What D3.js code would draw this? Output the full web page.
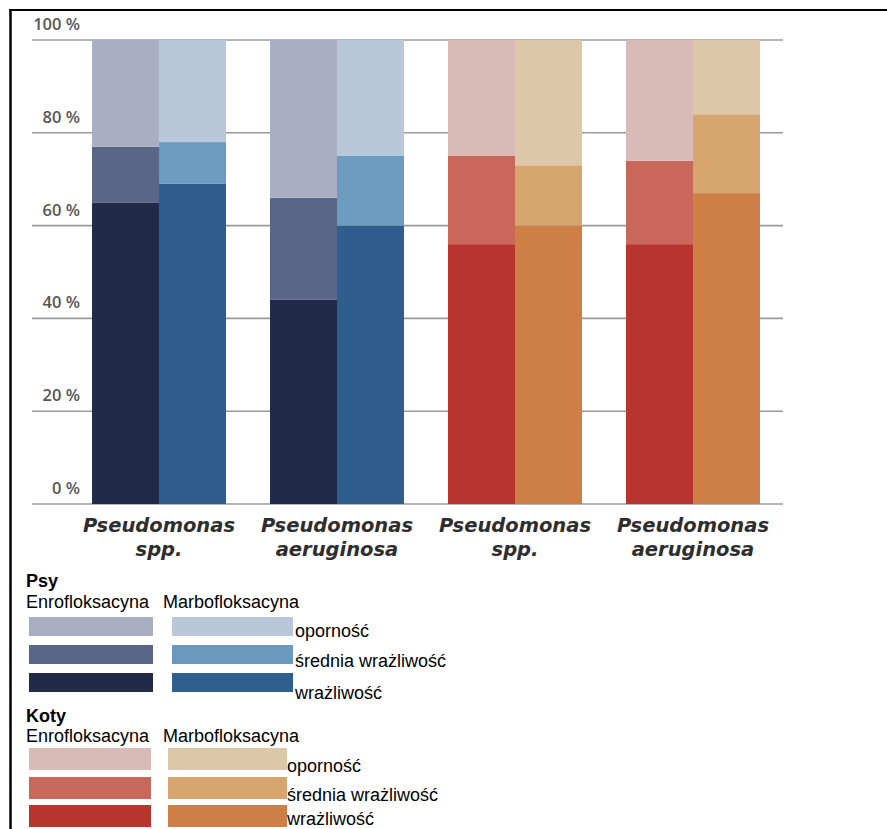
<!DOCTYPE html>
<html>
<head>
<meta charset="utf-8">
<script src="https://cdn.jsdelivr.net/npm/d3@7"></script>
<style>
  html, body { margin: 0; padding: 0; background: #fff; }
  svg { display: block; }
</style>
</head>
<body>
<svg id="chart" width="887" height="829"></svg>
<script>
// Susceptibility of Pseudomonas isolates (dogs / cats) to two fluoroquinolones
const categoryLine1 = ["Pseudomonas", "Pseudomonas", "Pseudomonas", "Pseudomonas"];
const categoryLine2 = ["spp.", "aeruginosa", "spp.", "aeruginosa"];
const species = ["Psy", "Psy", "Koty", "Koty"];
const drugs = ["Enrofloksacyna", "Marbofloksacyna"];
const levels = ["wrażliwość", "średnia wrażliwość", "oporność"];

// [Enrofloksacyna, Marbofloksacyna] per category, in %
const wrazliwosc        = [[65, 69], [44, 60], [56, 60], [56, 67]];
const sredniaWrazliwosc = [[12, 9],  [22, 15], [19, 13], [18, 17]];
const opornosc          = [[23, 22], [34, 25], [25, 27], [26, 16]];

const yTicks = [0, 20, 40, 60, 80, 100];
const yTickLabels = ["0 %", "20 %", "40 %", "60 %", "80 %", "100 %"];

// colours: species -> drug -> [wrażliwość, średnia, oporność]
const colors = {
  Psy:  { Enrofloksacyna: ["#222a4a", "#5a6688", "#a9aec3"],
          Marbofloksacyna: ["#2f5e8e", "#6b9bbf", "#b8c8d8"] },
  Koty: { Enrofloksacyna: ["#b8352f", "#c8675a", "#d8bab7"],
          Marbofloksacyna: ["#cd7f46", "#d6a56f", "#dcc7a9"] }
};

const svg = d3.select("#chart");

// frame lines (top and left)
svg.append("line").attr("x1", 9).attr("x2", 887).attr("y1", 10).attr("y2", 10)
  .attr("stroke", "#000").attr("stroke-width", 2);
svg.append("line").attr("x1", 10.5).attr("x2", 10.5).attr("y1", 9).attr("y2", 829)
  .attr("stroke", "#000").attr("stroke-width", 2.5);

const y = d3.scaleLinear().domain([0, 100]).range([504, 40]);
const x = d3.scaleBand().domain(d3.range(categoryLine1.length))
  .range([92, 760]).paddingInner(44 / 178).paddingOuter(0);
const xDrug = d3.scaleBand().domain(drugs).range([0, x.bandwidth()]).padding(0);

// gridlines with labels
const grid = svg.append("g");
grid.selectAll("line").data(yTicks).join("line")
  .attr("x1", 32).attr("x2", 783)
  .attr("y1", d => y(d)).attr("y2", d => y(d))
  .attr("stroke", "#9a9a9a").attr("stroke-width", 1.6);
grid.selectAll("text").data(yTicks).join("text")
  .attr("x", 80).attr("y", d => y(d) - 10)
  .attr("text-anchor", "end")
  .attr("font-family", "'Open Sans', sans-serif")
  .attr("font-weight", 600)
  .attr("font-size", 16.5)
  .attr("fill", "#555")
  .text((d, i) => yTickLabels[i]);

// stacked bars
const rows = [];
categoryLine1.forEach((c, ci) => {
  drugs.forEach((dr, di) => {
    rows.push({ ci, drug: dr, sp: species[ci],
      values: [wrazliwosc[ci][di], sredniaWrazliwosc[ci][di], opornosc[ci][di]] });
  });
});
const bars = svg.append("g");
rows.forEach(r => {
  let acc = 0;
  r.values.forEach((v, li) => {
    bars.append("rect")
      .attr("x", x(r.ci) + xDrug(r.drug))
      .attr("width", xDrug.bandwidth())
      .attr("y", y(acc + v))
      .attr("height", y(acc) - y(acc + v))
      .attr("fill", colors[r.sp][r.drug][li]);
    acc += v;
  });
});

// category labels (two lines each)
const catG = svg.append("g")
  .attr("font-family", "'DejaVu Sans', sans-serif")
  .attr("font-weight", 700)
  .attr("font-style", "italic")
  .attr("font-size", 19.5)
  .attr("fill", "#2e2e2e")
  .attr("text-anchor", "middle");
[categoryLine1, categoryLine2].forEach((lines, li) => {
  catG.selectAll(null).data(lines).join("text")
    .attr("x", (d, ci) => x(ci) + x.bandwidth() / 2)
    .attr("y", 532 + li * 24)
    .text(d => d);
});

// legend
const defs = svg.append("defs");
defs.append("filter").attr("id", "soft").attr("x", "-5%").attr("y", "-20%")
  .attr("width", "110%").attr("height", "140%")
  .append("feGaussianBlur").attr("stdDeviation", 0.7);

const legendBlocks = [
  { sp: "Psy", title: 587, header: 608, rowTop: [617, 645, 673], rowH: 19,
    enroX: 29, enroW: 124, marbX: 172, marbW: 121, labelX: 295, labelY: [637, 667, 699] },
  { sp: "Koty", title: 722, header: 742, rowTop: [748, 777, 805], rowH: 22,
    enroX: 29, enroW: 122, marbX: 168, marbW: 119, labelX: 287, labelY: [772, 801, 825] }
];
const font = "'Liberation Sans', Arial, sans-serif";
const leg = svg.append("g");
legendBlocks.forEach(b => {
  leg.append("text").attr("x", 26).attr("y", b.title)
    .attr("font-family", font).attr("font-weight", 700).attr("font-size", 18)
    .attr("fill", "#000").text(b.sp);
  leg.append("text").attr("x", 26).attr("y", b.header)
    .attr("font-family", font).attr("font-size", 18).attr("fill", "#000").text(drugs[0]);
  leg.append("text").attr("x", 163).attr("y", b.header)
    .attr("font-family", font).attr("font-size", 18).attr("fill", "#000").text(drugs[1]);
  // rows top-to-bottom: oporność, średnia, wrażliwość
  [2, 1, 0].forEach((li, ri) => {
    leg.append("rect").attr("x", b.enroX).attr("y", b.rowTop[ri])
      .attr("width", b.enroW).attr("height", b.rowH)
      .attr("fill", colors[b.sp].Enrofloksacyna[li]).attr("filter", "url(#soft)");
    leg.append("rect").attr("x", b.marbX).attr("y", b.rowTop[ri])
      .attr("width", b.marbW).attr("height", b.rowH)
      .attr("fill", colors[b.sp].Marbofloksacyna[li]).attr("filter", "url(#soft)");
    leg.append("text").attr("x", b.labelX).attr("y", b.labelY[ri])
      .attr("font-family", font).attr("font-size", 18).attr("fill", "#000")
      .text(levels[li]);
  });
});
</script>
</body>
</html>
